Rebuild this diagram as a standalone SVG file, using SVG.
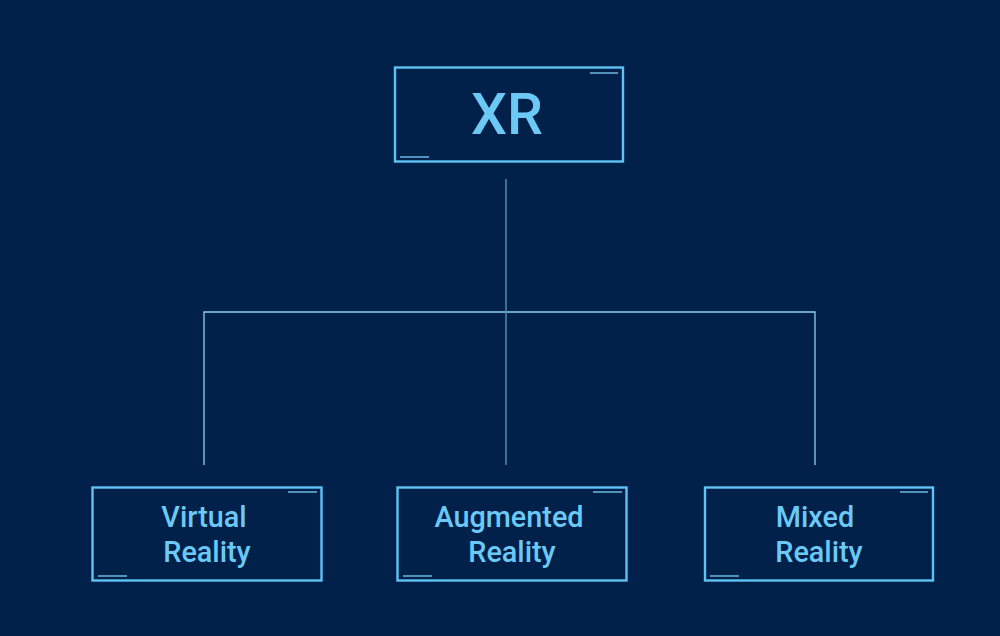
<svg xmlns="http://www.w3.org/2000/svg" width="1000" height="636" viewBox="0 0 1000 636">
<style>
.box{fill:#01214a;stroke:#5fc4f4;stroke-width:2.4}
.acc{stroke:#7fcff5;stroke-width:1.3}
.lbl{fill:#6cc9f6;font-family:Roboto,"Liberation Sans",sans-serif;font-weight:500;text-anchor:middle}
.con{fill:none;stroke:#8ad2f2;stroke-width:1.3}
</style>
<rect width="1000" height="636" fill="#01204a"/>
<g id="connectors">
<path class="con" d="M204 465V312H815V465"/>
<path d="M506 179V465" fill="none" stroke="#4f97b8" stroke-width="1.4"/>
</g>
<g id="xr">
<rect class="box" x="395" y="67.5" width="228" height="94"/>
<line class="acc" x1="590" y1="73" x2="618" y2="73"/>
<line class="acc" x1="400" y1="157" x2="429" y2="157"/>
<text class="lbl" x="507" y="134" font-size="57">XR</text>
</g>
<g id="vr">
<rect class="box" x="92.5" y="487.5" width="229" height="93"/>
<line class="acc" x1="288" y1="492" x2="317" y2="492"/>
<line class="acc" x1="98" y1="576" x2="127" y2="576"/>
<text class="lbl" x="204" y="527" font-size="28.8">Virtual</text>
<text class="lbl" x="207" y="562" font-size="28.8">Reality</text>
</g>
<g id="ar">
<rect class="box" x="397.5" y="487.5" width="229" height="93"/>
<line class="acc" x1="593" y1="492" x2="622" y2="492"/>
<line class="acc" x1="403" y1="576" x2="432" y2="576"/>
<text class="lbl" x="509" y="527" font-size="28.8">Augmented</text>
<text class="lbl" x="512" y="562" font-size="28.8">Reality</text>
</g>
<g id="mr">
<rect class="box" x="705" y="487.5" width="228" height="93"/>
<line class="acc" x1="900" y1="492" x2="928" y2="492"/>
<line class="acc" x1="710" y1="576" x2="739" y2="576"/>
<text class="lbl" x="815" y="527" font-size="28.8">Mixed</text>
<text class="lbl" x="819" y="562" font-size="28.8">Reality</text>
</g>
</svg>
